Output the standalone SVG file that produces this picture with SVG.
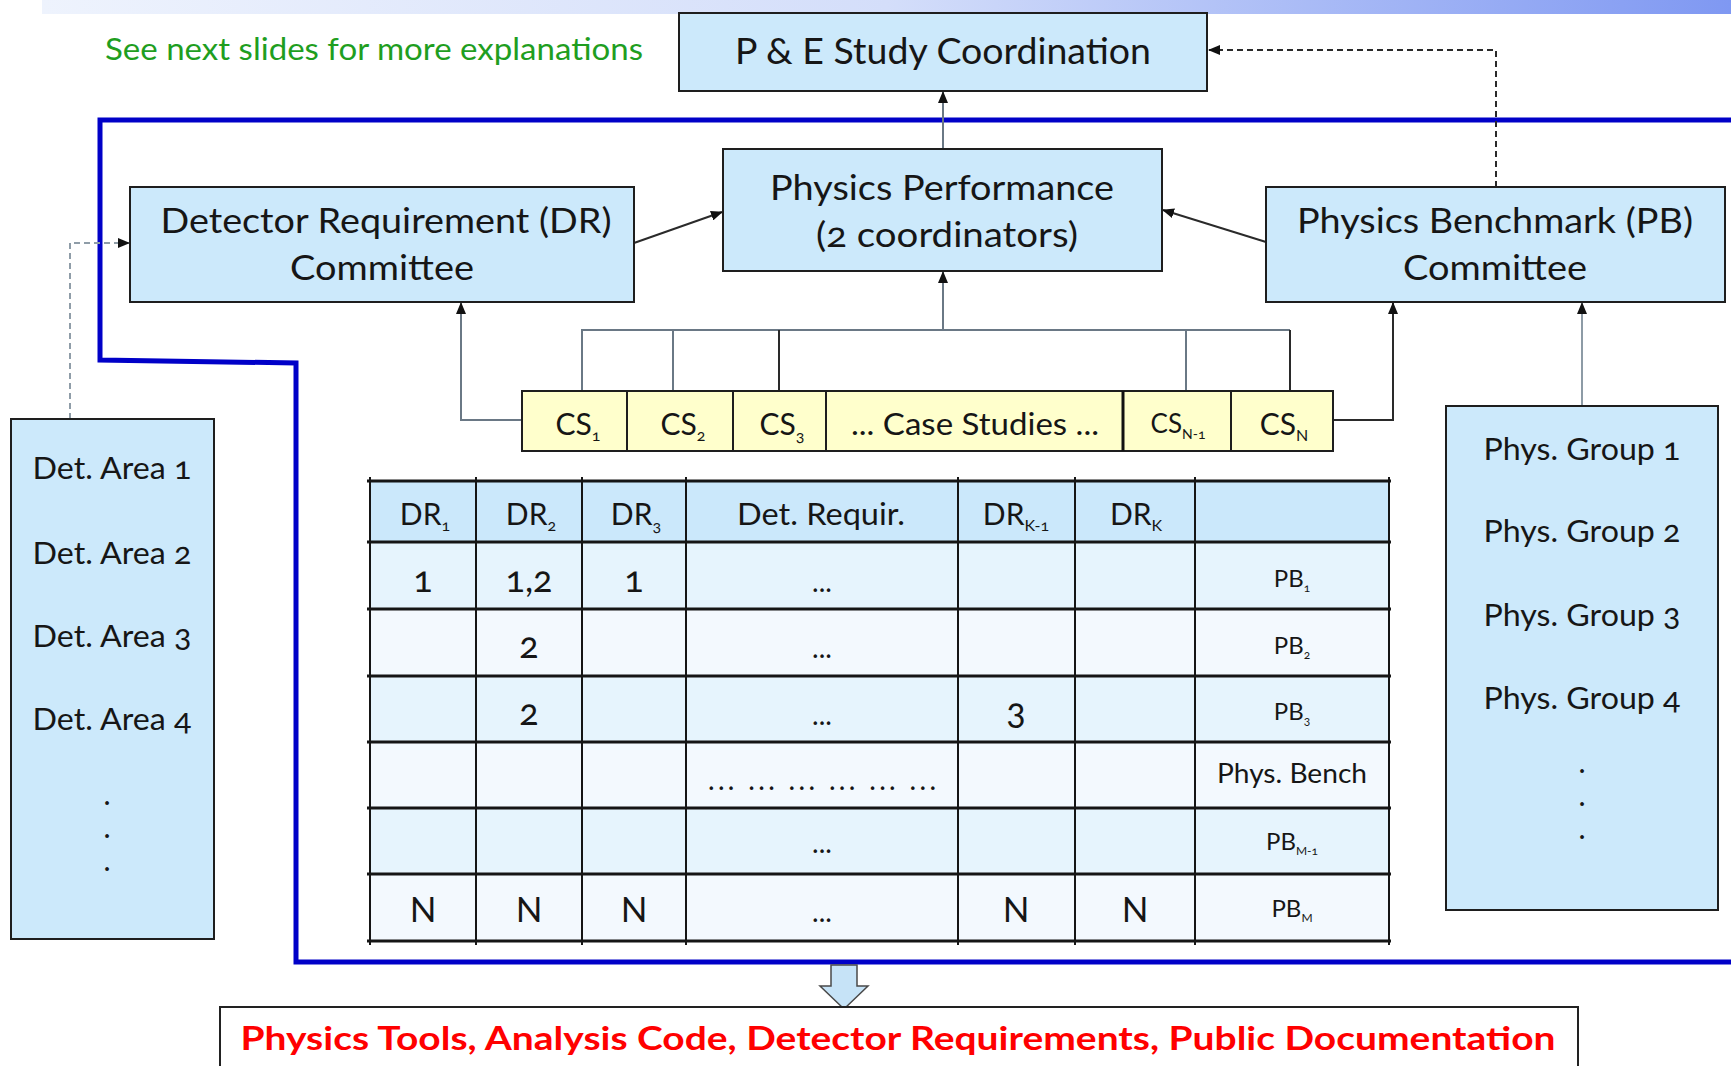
<svg xmlns="http://www.w3.org/2000/svg" width="1731" height="1066" viewBox="0 0 1731 1066">
  <defs>
    <linearGradient id="band" x1="0" y1="0" x2="1" y2="0">
      <stop offset="0" stop-color="#eef3fd"/>
      <stop offset="0.5" stop-color="#d4defa"/>
      <stop offset="1" stop-color="#7f98f2"/>
    </linearGradient>
    <marker id="ah" markerWidth="12" markerHeight="10" refX="11" refY="5" orient="auto" markerUnits="userSpaceOnUse">
      <path d="M0,0 L12,5 L0,10 z" fill="#111"/>
    </marker>
    <style>
      .box { fill:#cce9fb; stroke:#1e1e1e; stroke-width:2; }
      .cs { fill:#ffffcc; stroke:#1e1e1e; stroke-width:2; }
      .t { font-family: Lato, "Open Sans", "Liberation Sans", sans-serif; fill:#161616; text-anchor:middle; font-variant-numeric: oldstyle-nums; }
      .big { font-size:34px; }
      .mid { font-size:30px; }
      .num { font-size:36px; }
      .dots { font-size:28px; }
      .pb { font-size:24px; }
      .sub { font-size:16px; }
      .ssub { font-size:12px; }
      .grid { stroke:#151515; fill:none; }
      .c { fill:none; stroke-width:2; }
      .grey { stroke:#6a7885; }
      .dark { stroke:#2a2a2a; }
    </style>
  </defs>

  <rect width="1731" height="1066" fill="#ffffff"/>
  <!-- slide header band -->
  <rect x="42" y="0" width="1689" height="14" fill="url(#band)"/>

  <!-- note -->
  <text class="t" x="374" y="60" style="font-size:30px;fill:#1f9e1f" textLength="538" lengthAdjust="spacingAndGlyphs">See next slides for more explanations</text>

  <!-- blue enclosure of the working committees -->
  <g id="frame">
    <path d="M1731,120 H100 V360 L296,363 V962 H1731" fill="none" stroke="#0000c8" stroke-width="5"/>
  </g>

  <!-- connectors -->
  <g id="connectors">
    <path class="c grey" d="M943,149 V92" stroke-width="2.5" marker-end="url(#ah)"/>
    <path class="c dark" d="M1496,187 V50 H1209" stroke-dasharray="6 4" marker-end="url(#ah)"/>
    <path class="c dark" d="M634,243 L722,212" marker-end="url(#ah)"/>
    <path class="c dark" d="M1266,242 L1163,210" marker-end="url(#ah)"/>
    <path class="c grey" d="M582,391 V330 H1290"/>
    <path class="c dark" d="M1290,330 V391"/>
    <path class="c grey" d="M673,391 V330"/>
    <path class="c dark" d="M779,391 V330"/>
    <path class="c grey" d="M1186,391 V330"/>
    <path class="c grey" d="M943,330 V272" marker-end="url(#ah)"/>
    <path class="c grey" d="M522,420 H461 V303" marker-end="url(#ah)"/>
    <path class="c dark" d="M1333,420 H1393 V303" marker-end="url(#ah)"/>
    <path class="c" d="M1582,406 V303" stroke="#8d9ba6" stroke-width="3" marker-end="url(#ah)"/>
    <path class="c" d="M70,419 V243 H129" stroke="#8f9da8" stroke-width="2.5" stroke-dasharray="6 4" marker-end="url(#ah)"/>
  </g>

  <g id="pe-coordination">
    <rect class="box" x="679" y="13" width="528" height="78"/>
    <text class="t" x="943" y="64" style="font-size:36px" textLength="416" lengthAdjust="spacingAndGlyphs">P &amp; E Study Coordination</text>
  </g>

  <g id="physics-performance">
    <rect class="box" x="723" y="149" width="439" height="122"/>
    <text class="t big" x="942" y="200" textLength="344" lengthAdjust="spacingAndGlyphs">Physics Performance</text>
    <text class="t big" x="947" y="247" textLength="262" lengthAdjust="spacingAndGlyphs">(2 coordinators)</text>
  </g>

  <g id="dr-committee">
    <rect class="box" x="130" y="187" width="504" height="115"/>
    <text class="t big" x="386" y="233" textLength="451" lengthAdjust="spacingAndGlyphs">Detector Requirement (DR)</text>
    <text class="t big" x="382" y="280" textLength="184" lengthAdjust="spacingAndGlyphs">Committee</text>
  </g>

  <g id="pb-committee">
    <rect class="box" x="1266" y="187" width="459" height="115"/>
    <text class="t big" x="1495" y="233" textLength="396" lengthAdjust="spacingAndGlyphs">Physics Benchmark (PB)</text>
    <text class="t big" x="1495" y="280" textLength="184" lengthAdjust="spacingAndGlyphs">Committee</text>
  </g>

  <g id="det-areas">
    <rect class="box" x="11" y="419" width="203" height="520"/>
    <text class="t mid" x="112" y="479" textLength="159" lengthAdjust="spacingAndGlyphs">Det. Area 1</text>
    <text class="t mid" x="112" y="564" textLength="159" lengthAdjust="spacingAndGlyphs">Det. Area 2</text>
    <text class="t mid" x="112" y="647" textLength="159" lengthAdjust="spacingAndGlyphs">Det. Area 3</text>
    <text class="t mid" x="112" y="730" textLength="159" lengthAdjust="spacingAndGlyphs">Det. Area 4</text>
    <text class="t mid" x="107" y="805">.</text>
    <text class="t mid" x="107" y="838">.</text>
    <text class="t mid" x="107" y="871">.</text>
  </g>

  <g id="phys-groups">
    <rect class="box" x="1446" y="406" width="272" height="504"/>
    <text class="t mid" x="1582" y="460" textLength="197" lengthAdjust="spacingAndGlyphs">Phys. Group 1</text>
    <text class="t mid" x="1582" y="542" textLength="197" lengthAdjust="spacingAndGlyphs">Phys. Group 2</text>
    <text class="t mid" x="1582" y="626" textLength="197" lengthAdjust="spacingAndGlyphs">Phys. Group 3</text>
    <text class="t mid" x="1582" y="709" textLength="197" lengthAdjust="spacingAndGlyphs">Phys. Group 4</text>
    <text class="t mid" x="1582" y="773">.</text>
    <text class="t mid" x="1582" y="806">.</text>
    <text class="t mid" x="1582" y="839">.</text>
  </g>

  <g id="case-studies">
    <rect class="cs" x="522" y="391" width="105" height="60"/>
    <rect class="cs" x="627" y="391" width="106" height="60"/>
    <rect class="cs" x="733" y="391" width="93" height="60"/>
    <rect class="cs" x="826" y="391" width="297" height="60"/>
    <rect class="cs" x="1123" y="391" width="108" height="60"/>
    <rect class="cs" x="1231" y="391" width="102" height="60"/>
    <line x1="1123" y1="391" x2="1123" y2="451" stroke="#111" stroke-width="3"/>
    <text class="t mid" x="578" y="435">CS<tspan class="sub" dy="6">1</tspan></text>
    <text class="t mid" x="683" y="435">CS<tspan class="sub" dy="6">2</tspan></text>
    <text class="t mid" x="782" y="435">CS<tspan class="sub" dy="6">3</tspan></text>
    <text class="t mid" x="975" y="435" textLength="248" lengthAdjust="spacingAndGlyphs">... Case Studies ...</text>
    <text class="t" x="1178" y="433" style="font-size:26px">CS<tspan class="ssub" dy="6" style="font-size:14px">N-1</tspan></text>
    <text class="t mid" x="1284" y="435">CS<tspan class="sub" dy="6">N</tspan></text>
  </g>

  <g id="requirement-table">
    <rect x="370" y="481" width="1019" height="61" fill="#cbe8fb"/>
    <rect x="370" y="542" width="1019" height="67" fill="#e6f4fd"/>
    <rect x="370" y="609" width="1019" height="67" fill="#f3f9fe"/>
    <rect x="370" y="676" width="1019" height="66" fill="#e6f4fd"/>
    <rect x="370" y="742" width="1019" height="66" fill="#f3f9fe"/>
    <rect x="370" y="808" width="1019" height="66" fill="#e6f4fd"/>
    <rect x="370" y="874" width="1019" height="67" fill="#f3f9fe"/>
    <g class="grid" stroke-width="3">
      <path d="M367,481 H1391 M367,542 H1391 M367,609 H1391 M367,676 H1391 M367,742 H1391 M367,808 H1391 M367,874 H1391 M367,941 H1391"/>
    </g>
    <g class="grid" stroke-width="2">
      <path d="M370,477 V945 M476,477 V945 M582,477 V945 M686,477 V945 M958,477 V945 M1075,477 V945 M1195,477 V945 M1389,477 V945"/>
    </g>
    <!-- header -->
    <text class="t mid" x="425" y="525">DR<tspan class="sub" dy="6">1</tspan></text>
    <text class="t mid" x="531" y="525">DR<tspan class="sub" dy="6">2</tspan></text>
    <text class="t mid" x="636" y="525">DR<tspan class="sub" dy="6">3</tspan></text>
    <text class="t mid" x="821" y="525" textLength="168" lengthAdjust="spacingAndGlyphs">Det. Requir.</text>
    <text class="t mid" x="1016" y="525">DR<tspan class="sub" dy="6">K-1</tspan></text>
    <text class="t mid" x="1136" y="525">DR<tspan class="sub" dy="6">K</tspan></text>
    <!-- row 1 -->
    <text class="t num" x="423" y="592">1</text>
    <text class="t num" x="529" y="592">1,2</text>
    <text class="t num" x="634" y="592">1</text>
    <text class="t dots" x="822" y="592">...</text>
    <text class="t pb" x="1292" y="587">PB<tspan class="ssub" dy="5">1</tspan></text>
    <!-- row 2 -->
    <text class="t num" x="529" y="658">2</text>
    <text class="t dots" x="822" y="658">...</text>
    <text class="t pb" x="1292" y="654">PB<tspan class="ssub" dy="5">2</tspan></text>
    <!-- row 3 -->
    <text class="t num" x="529" y="725">2</text>
    <text class="t dots" x="822" y="725">...</text>
    <text class="t num" x="1016" y="724">3</text>
    <text class="t pb" x="1292" y="720">PB<tspan class="ssub" dy="5">3</tspan></text>
    <!-- row 4 -->
    <text class="t dots" x="822" y="790" textLength="228" lengthAdjust="spacing">... ... ... ... ... ...</text>
    <text class="t" x="1292" y="783" style="font-size:26px" textLength="150" lengthAdjust="spacingAndGlyphs">Phys. Bench</text>
    <!-- row 5 -->
    <text class="t dots" x="822" y="853">...</text>
    <text class="t pb" x="1292" y="850">PB<tspan class="ssub" dy="5">M-1</tspan></text>
    <!-- row 6 -->
    <text class="t" x="423" y="922" style="font-size:35px">N</text>
    <text class="t" x="529" y="922" style="font-size:35px">N</text>
    <text class="t" x="634" y="922" style="font-size:35px">N</text>
    <text class="t dots" x="822" y="922">...</text>
    <text class="t" x="1016" y="922" style="font-size:35px">N</text>
    <text class="t" x="1135" y="922" style="font-size:35px">N</text>
    <text class="t pb" x="1292" y="917">PB<tspan class="ssub" dy="5">M</tspan></text>
  </g>

  <g id="deliverables">
    <path d="M831,965 H857 V986 H868 L844,1009 L820,986 H831 Z" fill="#c6e3f7" stroke="#4a4a4a" stroke-width="1.5"/>
    <rect x="220" y="1007" width="1358" height="80" fill="#ffffff" stroke="#222" stroke-width="2"/>
    <text class="t" x="898" y="1050" style="font-size:32px;font-weight:bold;fill:#ff0000" textLength="1315" lengthAdjust="spacingAndGlyphs">Physics Tools, Analysis Code, Detector Requirements, Public Documentation</text>
  </g>
</svg>
